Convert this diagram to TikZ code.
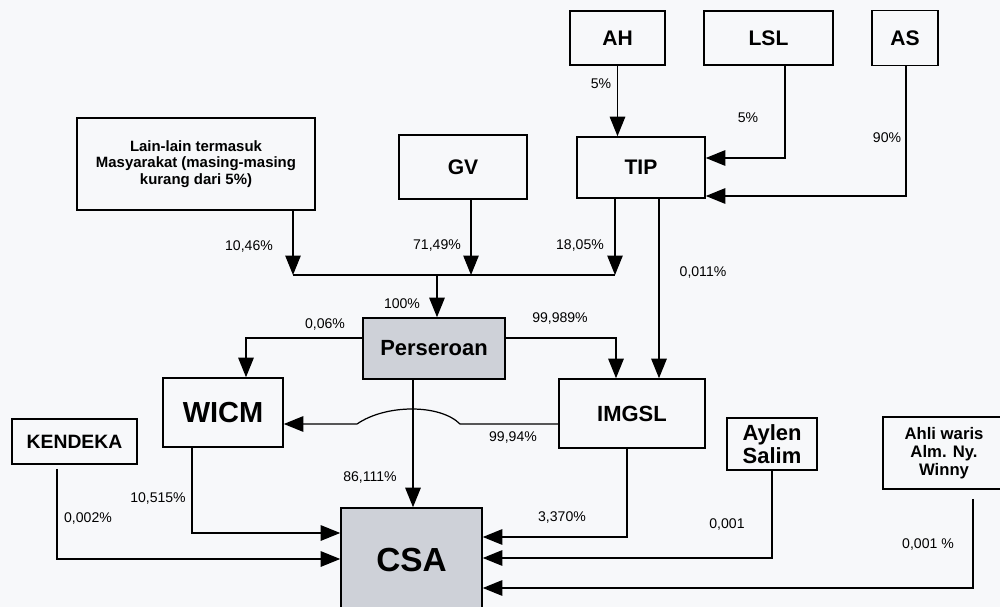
\documentclass[tikz,border=0pt]{standalone}
\usepackage{fontspec}
\setmainfont{Liberation Sans}
\usetikzlibrary{arrows.meta}
\definecolor{paper}{RGB}{247,248,250}
\definecolor{boxgray}{RGB}{206,209,216}

\begin{document}
\begin{tikzpicture}[x=0.02cm, y=-0.02cm,
  box/.style={draw, line width=0.9pt, align=center, font=\bfseries, inner sep=1pt},
  shadedbox/.style={box, fill=boxgray},
  arr/.style={line width=0.7pt, -{Triangle[length=3.9mm,width=3.1mm]}},
  link/.style={line width=0.7pt},
  pct/.style={font=\fontsize{8}{9}\selectfont}]
\fill[paper] (0,0) rectangle (1000,607);
\useasboundingbox (0,0) rectangle (1000,607);

%Nodes
\node[box, minimum width=1.9cm, minimum height=1.08cm, font=\bfseries\fontsize{12}{14}\selectfont] (nodeAH) at (617.5,38) {AH};
\node[box, minimum width=2.58cm, minimum height=1.08cm, font=\bfseries\fontsize{12}{14}\selectfont] (nodeLSL) at (768.5,38) {LSL};
\node[box, minimum width=1.32cm, minimum height=1.1cm, font=\bfseries\fontsize{12}{14}\selectfont] (nodeAS) at (905,38) {AS};

\node[box, minimum width=4.76cm, minimum height=1.84cm, font=\bfseries\fontsize{8.5}{9.4}\selectfont] (nodeLain) at (196,164) {Lain-lain termasuk\\Masyarakat (masing-masing\\kurang dari 5\%)};
\node[box, minimum width=2.56cm, minimum height=1.28cm, font=\bfseries\fontsize{12}{14}\selectfont] (nodeGV) at (463,167) {GV};
\node[box, minimum width=2.56cm, minimum height=1.22cm, font=\bfseries\fontsize{12}{14}\selectfont] (nodeTIP) at (641,167.5) {TIP};

\node[shadedbox, minimum width=2.84cm, minimum height=1.22cm, font=\bfseries\fontsize{12.5}{14}\selectfont] (nodePers) at (434,348.5) {Perseroan};

\node[box, minimum width=2.4cm, minimum height=1.38cm, font=\bfseries\fontsize{16.5}{18}\selectfont] (nodeWICM) at (223,412.5) {WICM};
\node[box, minimum width=2.92cm, minimum height=1.38cm, font=\bfseries\fontsize{12.5}{14}\selectfont] (nodeIMGSL) at (632,413.5) {IMGSL};

\node[box, minimum width=2.5cm, minimum height=0.9cm, font=\bfseries\fontsize{11}{13}\selectfont] (nodeKendeka) at (74.5,441.5) {KENDEKA};
\node[box, minimum width=1.8cm, minimum height=1.04cm, font=\bfseries\fontsize{12.5}{13}\selectfont] (nodeAylen) at (772,444) {Aylen\\Salim};
\node[box, minimum width=2.44cm, minimum height=1.44cm, font=\bfseries\fontsize{9.5}{10.3}\selectfont] (nodeAhli) at (944,453) {Ahli waris\\Alm. Ny.\\Winny};

\node[shadedbox, minimum width=2.82cm, minimum height=2.08cm, font=\bfseries\fontsize{19}{21}\selectfont] (nodeCSA) at (411.5,560) {CSA};

%Bend points
\coordinate (kLSL) at (785,158);
\coordinate (kAS) at (906,196);
\coordinate (jLain) at (293,275);
\coordinate (jGV) at (471,275);
\coordinate (jTIP) at (615,275);
\coordinate (jPers) at (437,275);
\coordinate (kTIP) at (659,380);
\coordinate (kPI) at (616,338);
\coordinate (kPW) at (246,338);
\coordinate (kPC) at (413,380);
\coordinate (bumpR) at (460,424);
\coordinate (bumpL) at (357,424);
\coordinate (kWICM) at (192,533);
\coordinate (kKendeka) at (57,559);
\coordinate (kIMGSL) at (627,537);
\coordinate (kAylen) at (772,558);
\coordinate (kAhli) at (973,588);

%Lines
\draw[arr] (nodeAH.south) -- (nodeAH.south |- nodeTIP.north);
\draw[arr] (nodeLSL.south -| kLSL) -- (kLSL) -- (kLSL -| nodeTIP.east);
\draw[arr] (nodeAS.south -| kAS) -- (kAS) -- (kAS -| nodeTIP.east);

\draw[link] (jLain) -- (jTIP);
\draw[arr] (nodeLain.south -| jLain) -- (jLain);
\draw[arr] (nodeGV.south -| jGV) -- (jGV);
\draw[arr] (nodeTIP.south -| jTIP) -- (jTIP);
\draw[arr] (jPers) -- (jPers |- nodePers.north);

\draw[arr] (nodeTIP.south -| kTIP) -- (kTIP |- nodeIMGSL.north);
\draw[arr] (nodePers.east |- kPI) -- (kPI) -- (kPI |- nodeIMGSL.north);
\draw[arr] (nodePers.west |- kPW) -- (kPW) -- (kPW |- nodeWICM.north);
\draw[arr] (nodePers.south -| kPC) -- (kPC |- nodeCSA.north);

\draw[arr] (nodeIMGSL.west |- bumpR) -- (bumpR) .. controls (440,404) and (386,404) .. (bumpL) -- (bumpL -| nodeWICM.east);

\draw[arr] (nodeWICM.south -| kWICM) -- (kWICM) -- (kWICM -| nodeCSA.west);
\draw[arr, shorten <=0.8mm] (nodeKendeka.south -| kKendeka) -- (kKendeka) -- (kKendeka -| nodeCSA.west);
\draw[arr] (nodeIMGSL.south -| kIMGSL) -- (kIMGSL) -- (kIMGSL -| nodeCSA.east);
\draw[arr] (nodeAylen.south -| kAylen) -- (kAylen) -- (kAylen -| nodeCSA.east);
\draw[arr, shorten <=1.8mm] (nodeAhli.south -| kAhli) -- (kAhli) -- (kAhli -| nodeCSA.east);

%Labels
\node[pct] (pctAH) at (601,84) {5\%};
\node[pct] (pctLSL) at (748,118) {5\%};
\node[pct] (pctAS) at (887,138) {90\%};
\node[pct] (pctLain) at (249,246) {10,46\%};
\node[pct] (pctGV) at (437,245) {71,49\%};
\node[pct] (pctTIP) at (580,245) {18,05\%};
\node[pct] (pctTIPI) at (703,272) {0,011\%};
\node[pct] (pctPers) at (402,304) {100\%};
\node[pct] (pctPW) at (325,324) {0,06\%};
\node[pct] (pctPI) at (560,318) {99,989\%};
\node[pct] (pctIW) at (513,437) {99,94\%};
\node[pct] (pctPC) at (370,477) {86,111\%};
\node[pct] (pctWC) at (158,498) {10,515\%};
\node[pct] (pctKC) at (88,518) {0,002\%};
\node[pct] (pctIC) at (562,517) {3,370\%};
\node[pct] (pctAC) at (727,524) {0,001};
\node[pct] (pctHC) at (928,544) {0,001 \%};
\end{tikzpicture}
\end{document}
